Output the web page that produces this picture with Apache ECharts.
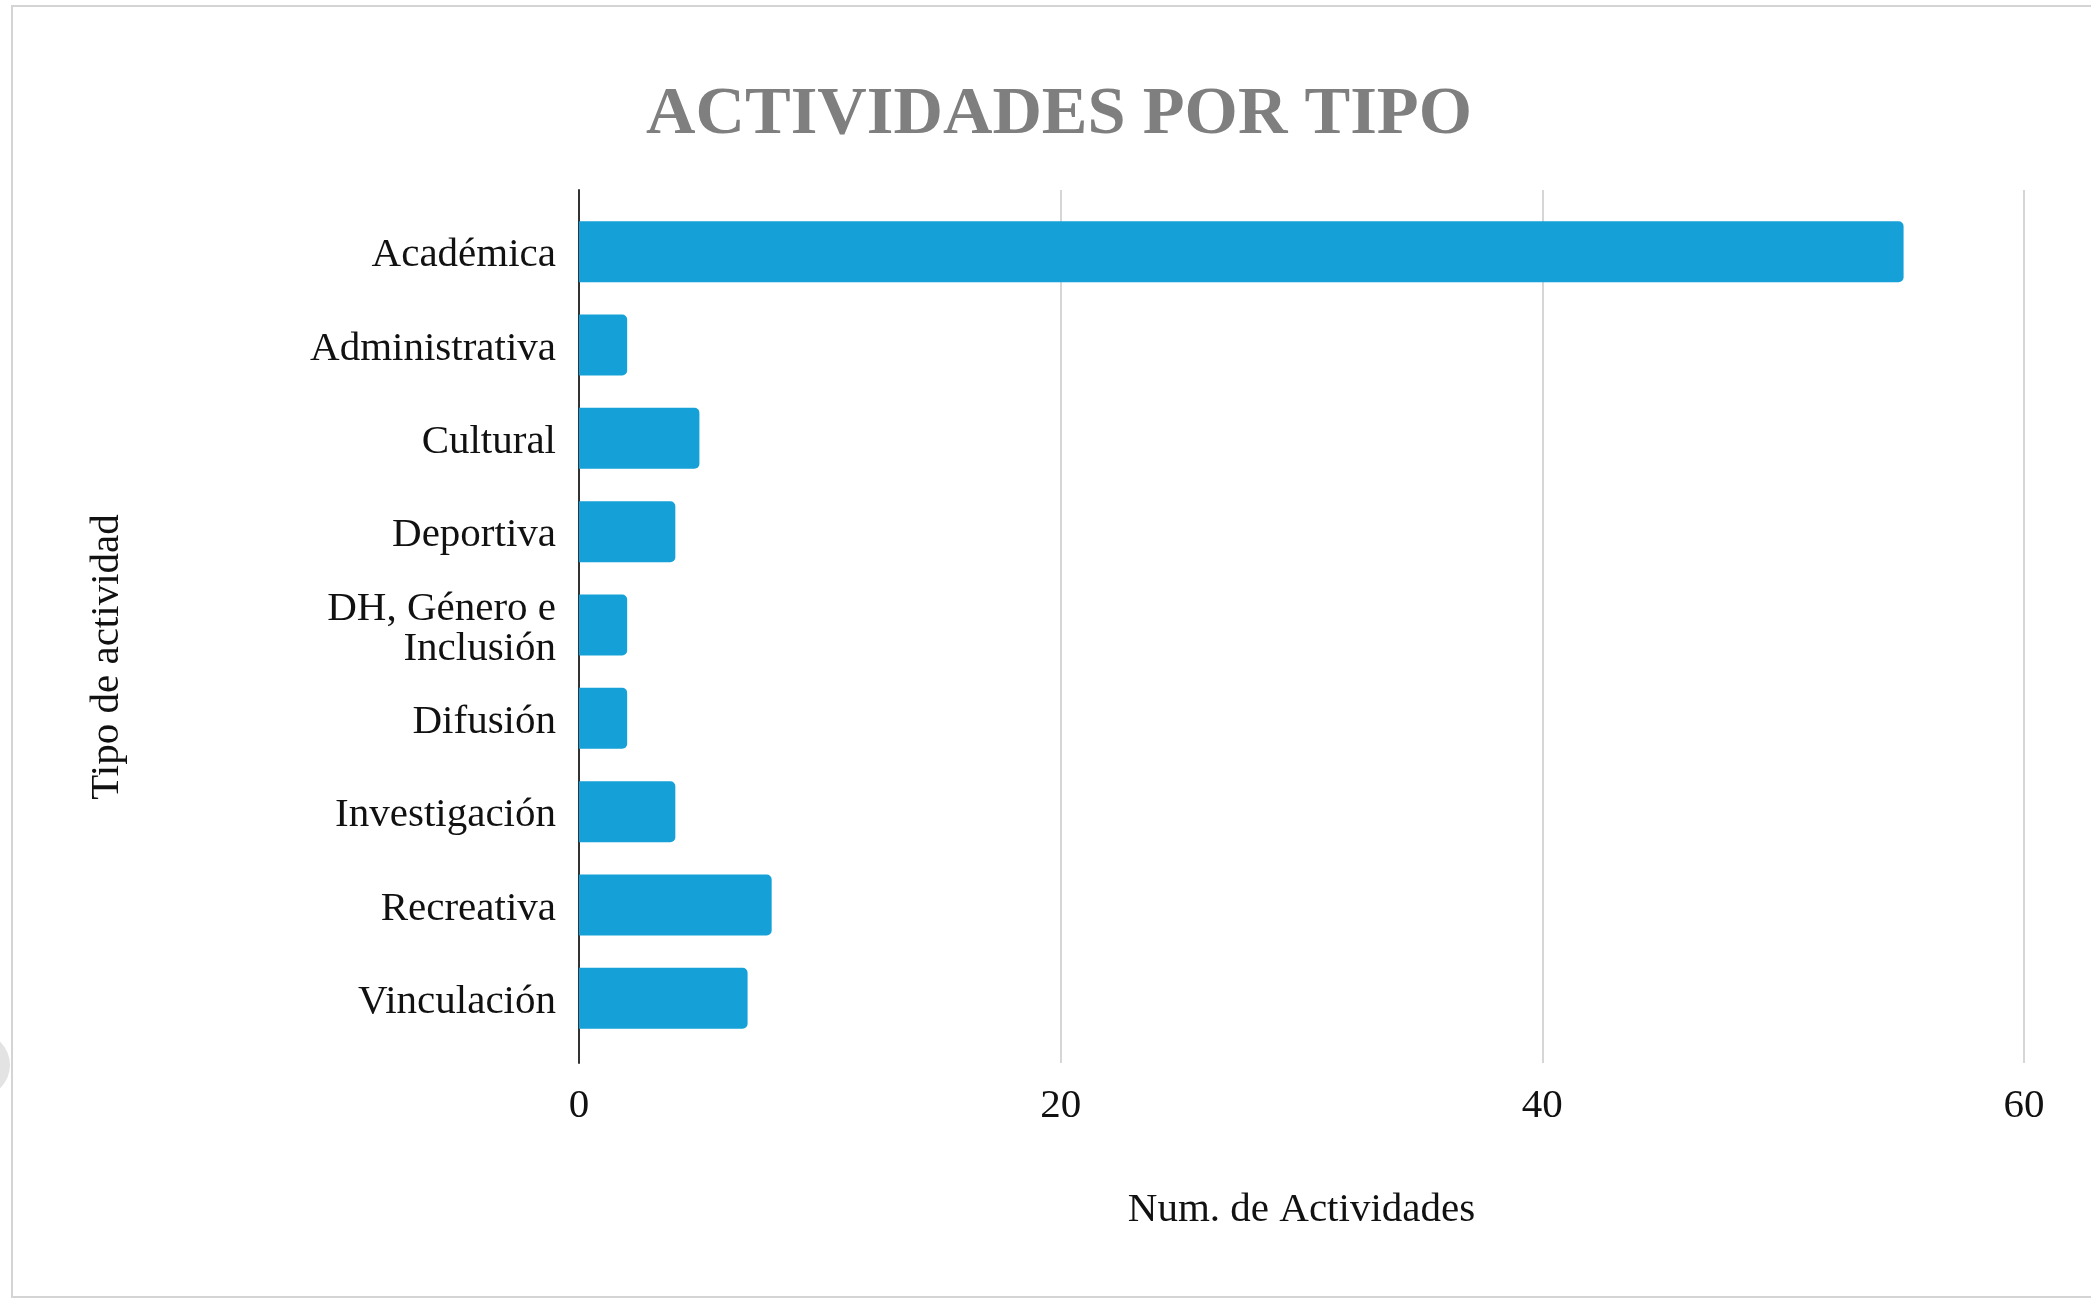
<!DOCTYPE html>
<html>
<head>
<meta charset="utf-8">
<title>Actividades por tipo</title>
<script src="https://cdn.jsdelivr.net/npm/echarts@6/dist/echarts.min.js"></script>
<style>
    html, body { margin: 0; padding: 0; background: #fff; }
    #chart { width: 2091px; height: 1299px; }
</style>
</head>
<body>
<div id="chart"></div>
<script>
    // datos de la grafica
    var categorias = ['Académica', 'Administrativa', 'Cultural', 'Deportiva', 'DH, Género e\nInclusión',
        'Difusión', 'Investigación', 'Recreativa', 'Vinculación'];
    var actividades = [55, 2, 5, 4, 2, 2, 4, 8, 7];
    var ticks = [0, 20, 40, 60];

    var fuente = 'Liberation Serif';
    var myChart = echarts.init(document.getElementById('chart'));

    myChart.setOption({
        animation: false,
        title: {
            text: 'ACTIVIDADES POR TIPO',
            left: 1054,
            top: 76,
            textAlign: 'center',
            textStyle: {
                fontFamily: fuente,
                fontSize: 68.5,
                fontWeight: 'bold',
                color: '#7f7f7f'
            }
        },
        // marco y textos sueltos
        graphic: [
            {
                type: 'rect',
                shape: {x: 12, y: 6, width: 2100, height: 1291},
                style: {fill: 'none', stroke: '#d4d4d4', lineWidth: 2},
                silent: true
            },
            {
                type: 'circle',
                shape: {cx: -22, cy: 1065, r: 32},
                style: {fill: '#e3e3e3'},
                silent: true
            },
            {
                type: 'text',
                x: 107,
                y: 657,
                rotation: Math.PI / 2,
                style: {
                    text: 'Tipo de actividad',
                    font: '41px "Liberation Serif"',
                    fill: '#111',
                    align: 'center',
                    verticalAlign: 'middle'
                }
            }
        ],
        grid: [
            // rejilla con lineas y eje
            {left: 579, top: 190, width: 1445, height: 873},
            // rejilla de las barras
            {left: 579, top: 205, width: 1445, height: 840},
            // etiquetas de categoria (un poco mas abajo)
            {left: 579, top: 209, width: 1445, height: 840}
        ],
        xAxis: [
            {
                type: 'value',
                gridIndex: 0,
                min: ticks[0],
                max: ticks[ticks.length - 1],
                interval: 20,
                name: 'Num. de Actividades',
                nameLocation: 'middle',
                nameGap: 127,
                nameTextStyle: {fontFamily: fuente, fontSize: 41, color: '#111'},
                axisLine: {show: false},
                axisTick: {show: false},
                axisLabel: {margin: 23, fontFamily: fuente, fontSize: 41, color: '#111'},
                splitLine: {lineStyle: {color: '#d6d6d6', width: 2}}
            },
            {
                type: 'value',
                gridIndex: 1,
                min: ticks[0],
                max: ticks[ticks.length - 1],
                show: false
            },
            {
                type: 'value',
                gridIndex: 2,
                min: ticks[0],
                max: ticks[ticks.length - 1],
                show: false
            }
        ],
        yAxis: [
            {
                type: 'category',
                gridIndex: 0,
                inverse: true,
                data: categorias,
                axisLine: {lineStyle: {color: '#333', width: 2}},
                axisTick: {show: false},
                axisLabel: {show: false}
            },
            {
                type: 'category',
                gridIndex: 1,
                inverse: true,
                data: categorias,
                axisLine: {show: false},
                axisTick: {show: false},
                axisLabel: {show: false}
            },
            {
                type: 'category',
                gridIndex: 2,
                inverse: true,
                data: categorias,
                axisLine: {show: false},
                axisTick: {show: false},
                axisLabel: {
                    margin: 23,
                    fontFamily: fuente,
                    fontSize: 41,
                    lineHeight: 40,
                    color: '#111',
                    align: 'right'
                }
            }
        ],
        series: [
            {
                name: 'Actividades',
                type: 'bar',
                xAxisIndex: 1,
                yAxisIndex: 1,
                barWidth: 61,
                data: actividades,
                itemStyle: {color: '#15a1d8', borderRadius: [0, 5, 5, 0]}
            }
        ]
    });
</script>
</body>
</html>
